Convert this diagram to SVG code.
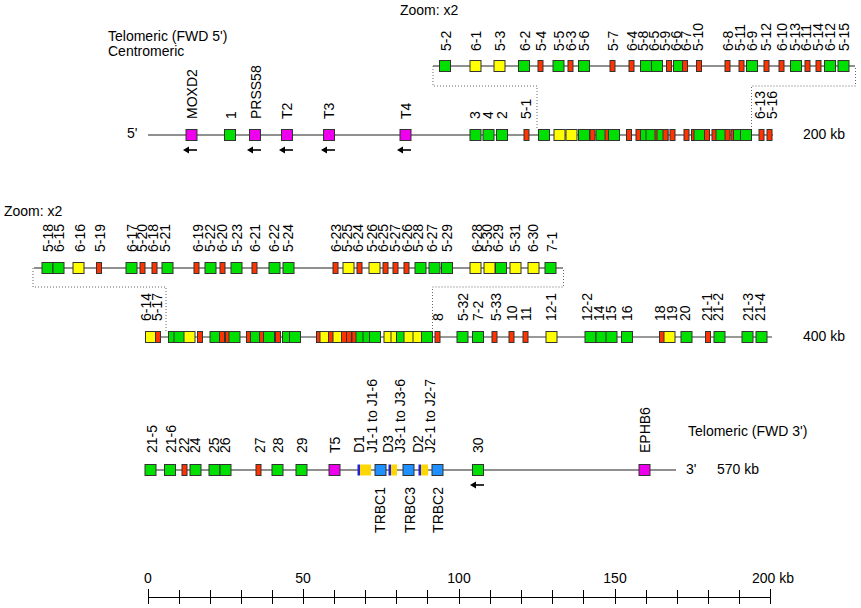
<svg xmlns="http://www.w3.org/2000/svg" width="861" height="608" viewBox="0 0 861 608">
<style>
text{font-family:"Liberation Sans",Arial,sans-serif;font-size:14px;fill:#000}
.ln{stroke:#222;stroke-width:1.2;fill:none}
.ln2{stroke:#777;stroke-width:1.4;fill:none}
.dot{fill:none;stroke:#666;stroke-width:1;stroke-dasharray:1 2}
.G{fill:#00e000;stroke:#333;stroke-width:1}
.Y{fill:#ffff00;stroke:#333;stroke-width:1}
.R{fill:#ff3300;stroke:#333;stroke-width:1}
.M{fill:#ee00ee;stroke:#333;stroke-width:1}
.B{fill:#1e90ff;stroke:#333;stroke-width:1}
.J{fill:#ffd700;stroke:none}
.D{fill:#2222dd;stroke:none}
.e{text-anchor:end}
.m{text-anchor:middle}
.sc{stroke:#000;stroke-width:1;fill:none}
</style>
<defs>
<g id="arr"><path d="M0,0 L6,-3.5 L6,3.5 Z" fill="#000"/><line x1="5" y1="0" x2="14" y2="0" stroke="#000" stroke-width="1.6"/></g>
</defs>

<g id="titles">
<text x="400" y="15">Zoom: x2</text>
<text x="108" y="41">Telomeric (FWD 5')</text>
<text x="108" y="56">Centromeric</text>
<text x="127" y="138">5'</text>
<text x="803" y="139">200 kb</text>
<text x="4" y="216">Zoom: x2</text>
<text x="803" y="341">400 kb</text>
<text x="688" y="436">Telomeric (FWD 3')</text>
<text x="686" y="474">3'</text>
<text x="717" y="474">570 kb</text>
</g>

<g id="connectors">
<line class="ln" x1="433" y1="66" x2="855" y2="66"/>
<line class="ln" x1="148" y1="135" x2="773" y2="135"/>
<line class="ln" x1="34" y1="268" x2="563" y2="268"/>
<line class="ln2" x1="148" y1="337" x2="772" y2="337"/>
<line class="ln" x1="148" y1="470" x2="676" y2="470"/>
<path class="dot" d="M433,66 V86 H537 V130"/>
<path class="dot" d="M751.5,130 V86 H855.5 V66"/>
<path class="dot" d="M33,268 V287 H166 V332"/>
<path class="dot" d="M432.5,332 V287 H563.5 V268"/>
<use href="#arr" x="183" y="150"/>
<use href="#arr" x="247" y="150"/>
<use href="#arr" x="279" y="150"/>
<use href="#arr" x="321" y="150"/>
<use href="#arr" x="397" y="150"/>
<use href="#arr" x="470" y="485"/>
</g>

<!-- Row 1 zoom -->
<g id="z1-5-2"><rect class="G" x="439.5" y="60.5" width="11" height="11"/><text transform="translate(451,51) rotate(-90)">5-2</text></g>
<g id="z1-6-1"><rect class="Y" x="470" y="60.5" width="11" height="11"/><text transform="translate(481,51) rotate(-90)">6-1</text></g>
<g id="z1-5-3"><rect class="Y" x="494" y="60.5" width="11" height="11"/><text transform="translate(505,51) rotate(-90)">5-3</text></g>
<g id="z1-6-2"><rect class="G" x="518.5" y="60.5" width="11" height="11"/><text transform="translate(530,51) rotate(-90)">6-2</text></g>
<g id="z1-5-4"><rect class="R" x="538" y="60.5" width="5" height="11"/><text transform="translate(546,51) rotate(-90)">5-4</text></g>
<g id="z1-5-5"><rect class="G" x="553" y="60.5" width="11" height="11"/><text transform="translate(564,51) rotate(-90)">5-5</text></g>
<g id="z1-6-3"><rect class="R" x="568" y="60.5" width="5" height="11"/><text transform="translate(576,51) rotate(-90)">6-3</text></g>
<g id="z1-5-6"><rect class="G" x="578.5" y="60.5" width="11" height="11"/><text transform="translate(589,51) rotate(-90)">5-6</text></g>
<g id="z1-5-7"><rect class="R" x="610" y="60.5" width="5" height="11"/><text transform="translate(618,51) rotate(-90)">5-7</text></g>
<g id="z1-6-4"><rect class="R" x="629" y="60.5" width="5" height="11"/><text transform="translate(637,51) rotate(-90)">6-4</text></g>
<g id="z1-5-8"><rect class="G" x="640.5" y="60.5" width="11" height="11"/><text transform="translate(648,51) rotate(-90)">5-8</text></g>
<g id="z1-6-5"><rect class="G" x="651.5" y="60.5" width="11" height="11"/><text transform="translate(659,51) rotate(-90)">6-5</text></g>
<g id="z1-5-9"><rect class="R" x="666.5" y="60.5" width="5" height="11"/><text transform="translate(670,51) rotate(-90)">5-9</text></g>
<g id="z1-6-6"><rect class="G" x="673.5" y="60.5" width="11" height="11"/><text transform="translate(681,51) rotate(-90)">6-6</text></g>
<g id="z1-6-7"><rect class="R" x="682.5" y="60.5" width="5" height="11"/><text transform="translate(691,51) rotate(-90)">6-7</text></g>
<g id="z1-5-10"><rect class="R" x="696.5" y="60.5" width="5" height="11"/><text transform="translate(703,51) rotate(-90)">5-10</text></g>
<g id="z1-6-8"><rect class="R" x="725" y="60.5" width="5" height="11"/><text transform="translate(733,51) rotate(-90)">6-8</text></g>
<g id="z1-5-11"><rect class="R" x="739" y="60.5" width="5" height="11"/><text transform="translate(745,51) rotate(-90)">5-11</text></g>
<g id="z1-6-9"><rect class="G" x="746.5" y="60.5" width="11" height="11"/><text transform="translate(757,51) rotate(-90)">6-9</text></g>
<g id="z1-5-12"><rect class="R" x="764" y="60.5" width="5" height="11"/><text transform="translate(771,51) rotate(-90)">5-12</text></g>
<g id="z1-6-10"><rect class="R" x="779" y="60.5" width="5" height="11"/><text transform="translate(787,51) rotate(-90)">6-10</text></g>
<g id="z1-5-13"><rect class="G" x="790.5" y="60.5" width="11" height="11"/><text transform="translate(800,51) rotate(-90)">5-13</text></g>
<g id="z1-6-11"><rect class="R" x="805" y="60.5" width="5" height="11"/><text transform="translate(811,51) rotate(-90)">6-11</text></g>
<g id="z1-5-14"><rect class="R" x="816" y="60.5" width="5" height="11"/><text transform="translate(823,51) rotate(-90)">5-14</text></g>
<g id="z1-6-12"><rect class="G" x="824.5" y="60.5" width="11" height="11"/><text transform="translate(835,51) rotate(-90)">6-12</text></g>
<g id="z1-5-15"><rect class="G" x="838" y="60.5" width="11" height="11"/><text transform="translate(849,51) rotate(-90)">5-15</text></g>

<!-- Row 1 main -->
<g id="MOXD2"><rect class="M" x="186" y="129.5" width="11" height="11"/><text transform="translate(197,119) rotate(-90)">MOXD2</text></g>
<g id="m1-1"><rect class="G" x="224.5" y="129.5" width="11" height="11"/><text transform="translate(236,119) rotate(-90)">1</text></g>
<g id="PRSS58"><rect class="M" x="249.5" y="129.5" width="11" height="11"/><text transform="translate(261,119) rotate(-90)">PRSS58</text></g>
<g id="T2"><rect class="M" x="281.5" y="129.5" width="11" height="11"/><text transform="translate(292,119) rotate(-90)">T2</text></g>
<g id="T3"><rect class="M" x="323.5" y="129.5" width="11" height="11"/><text transform="translate(334,119) rotate(-90)">T3</text></g>
<g id="T4"><rect class="M" x="400" y="129.5" width="11" height="11"/><text transform="translate(411,119) rotate(-90)">T4</text></g>
<g id="m1-3"><rect class="G" x="470" y="129.5" width="11" height="11"/><text transform="translate(480,119) rotate(-90)">3</text></g>
<g id="m1-4"><rect class="G" x="483" y="129.5" width="11" height="11"/><text transform="translate(493,119) rotate(-90)">4</text></g>
<g id="m1-2"><rect class="G" x="496.5" y="129.5" width="11" height="11"/><text transform="translate(507,119) rotate(-90)">2</text></g>
<g id="m1-5-1"><rect class="R" x="524" y="129.5" width="5" height="11"/><text transform="translate(531,119) rotate(-90)">5-1</text></g>
<g id="m1-5-2"><rect class="G" x="538.5" y="129.5" width="11" height="11"/></g>
<g id="m1-6-1"><rect class="Y" x="554" y="129.5" width="11" height="11"/></g>
<g id="m1-5-3"><rect class="Y" x="566" y="129.5" width="11" height="11"/></g>
<g id="m1-6-2"><rect class="G" x="578.5" y="129.5" width="11" height="11"/></g>
<g id="m1-5-4"><rect class="R" x="590" y="129.5" width="5" height="11"/></g>
<g id="m1-5-5"><rect class="G" x="596" y="129.5" width="11" height="11"/></g>
<g id="m1-6-3"><rect class="R" x="605" y="129.5" width="5" height="11"/></g>
<g id="m1-5-6"><rect class="G" x="608.5" y="129.5" width="11" height="11"/></g>
<g id="m1-5-7"><rect class="R" x="626.5" y="129.5" width="5" height="11"/></g>
<g id="m1-6-4"><rect class="R" x="636" y="129.5" width="5" height="11"/></g>
<g id="m1-5-8"><rect class="G" x="640.5" y="129.5" width="11" height="11"/></g>
<g id="m1-6-5"><rect class="G" x="646" y="129.5" width="11" height="11"/></g>
<g id="m1-5-9"><rect class="R" x="655" y="129.5" width="5" height="11"/></g>
<g id="m1-6-6"><rect class="G" x="657" y="129.5" width="11" height="11"/></g>
<g id="m1-6-7"><rect class="R" x="663" y="129.5" width="5" height="11"/></g>
<g id="m1-5-10"><rect class="R" x="670" y="129.5" width="5" height="11"/></g>
<g id="m1-6-8"><rect class="R" x="684" y="129.5" width="5" height="11"/></g>
<g id="m1-5-11"><rect class="R" x="691.5" y="129.5" width="5" height="11"/></g>
<g id="m1-6-9"><rect class="G" x="694" y="129.5" width="11" height="11"/></g>
<g id="m1-5-12"><rect class="R" x="704.5" y="129.5" width="5" height="11"/></g>
<g id="m1-6-10"><rect class="R" x="712" y="129.5" width="5" height="11"/></g>
<g id="m1-5-13"><rect class="G" x="716" y="129.5" width="11" height="11"/></g>
<g id="m1-6-11"><rect class="R" x="725" y="129.5" width="5" height="11"/></g>
<g id="m1-5-14"><rect class="R" x="731" y="129.5" width="5" height="11"/></g>
<g id="m1-6-12"><rect class="G" x="733.5" y="129.5" width="11" height="11"/></g>
<g id="m1-5-15"><rect class="G" x="740.5" y="129.5" width="11" height="11"/></g>
<g id="m1-6-13"><rect class="R" x="759" y="129.5" width="5" height="11"/><text transform="translate(765,119) rotate(-90)">6-13</text></g>
<g id="m1-5-16"><rect class="R" x="767" y="129.5" width="5" height="11"/><text transform="translate(777,119) rotate(-90)">5-16</text></g>

<!-- Row 2 zoom -->
<g id="z2-5-18"><rect class="G" x="42" y="262.5" width="11" height="11"/><text transform="translate(53,252) rotate(-90)">5-18</text></g>
<g id="z2-6-15"><rect class="G" x="53" y="262.5" width="11" height="11"/><text transform="translate(64,252) rotate(-90)">6-15</text></g>
<g id="z2-6-16"><rect class="Y" x="73" y="262.5" width="11" height="11"/><text transform="translate(85,252) rotate(-90)">6-16</text></g>
<g id="z2-5-19"><rect class="R" x="96.5" y="262.5" width="5" height="11"/><text transform="translate(105,252) rotate(-90)">5-19</text></g>
<g id="z2-6-17"><rect class="G" x="126" y="262.5" width="11" height="11"/><text transform="translate(137,252) rotate(-90)">6-17</text></g>
<g id="z2-5-20"><rect class="R" x="140" y="262.5" width="5" height="11"/><text transform="translate(147,252) rotate(-90)">5-20</text></g>
<g id="z2-6-18"><rect class="R" x="152" y="262.5" width="5" height="11"/><text transform="translate(158,252) rotate(-90)">6-18</text></g>
<g id="z2-5-21"><rect class="G" x="162" y="262.5" width="11" height="11"/><text transform="translate(170,252) rotate(-90)">5-21</text></g>
<g id="z2-6-19"><rect class="R" x="194" y="262.5" width="5" height="11"/><text transform="translate(203,252) rotate(-90)">6-19</text></g>
<g id="z2-5-22"><rect class="G" x="205" y="262.5" width="11" height="11"/><text transform="translate(215,252) rotate(-90)">5-22</text></g>
<g id="z2-6-20"><rect class="R" x="220" y="262.5" width="5" height="11"/><text transform="translate(227,252) rotate(-90)">6-20</text></g>
<g id="z2-5-23"><rect class="G" x="231" y="262.5" width="11" height="11"/><text transform="translate(242,252) rotate(-90)">5-23</text></g>
<g id="z2-6-21"><rect class="R" x="252" y="262.5" width="5" height="11"/><text transform="translate(260,252) rotate(-90)">6-21</text></g>
<g id="z2-6-22"><rect class="G" x="269" y="262.5" width="11" height="11"/><text transform="translate(279,252) rotate(-90)">6-22</text></g>
<g id="z2-5-24"><rect class="G" x="283" y="262.5" width="11" height="11"/><text transform="translate(293,252) rotate(-90)">5-24</text></g>
<g id="z2-6-23"><rect class="R" x="333" y="262.5" width="5" height="11"/><text transform="translate(341,252) rotate(-90)">6-23</text></g>
<g id="z2-5-25"><rect class="Y" x="343" y="262.5" width="11" height="11"/><text transform="translate(352,252) rotate(-90)">5-25</text></g>
<g id="z2-6-24"><rect class="R" x="357" y="262.5" width="5" height="11"/><text transform="translate(363,252) rotate(-90)">6-24</text></g>
<g id="z2-5-26"><rect class="Y" x="369" y="262.5" width="11" height="11"/><text transform="translate(377,252) rotate(-90)">5-26</text></g>
<g id="z2-6-25"><rect class="R" x="383" y="262.5" width="5" height="11"/><text transform="translate(388,252) rotate(-90)">6-25</text></g>
<g id="z2-5-27"><rect class="R" x="393" y="262.5" width="5" height="11"/><text transform="translate(400,252) rotate(-90)">5-27</text></g>
<g id="z2-6-26"><rect class="R" x="404" y="262.5" width="5" height="11"/><text transform="translate(412,252) rotate(-90)">6-26</text></g>
<g id="z2-5-28"><rect class="G" x="415" y="262.5" width="11" height="11"/><text transform="translate(423,252) rotate(-90)">5-28</text></g>
<g id="z2-6-27"><rect class="G" x="429" y="262.5" width="11" height="11"/><text transform="translate(437,252) rotate(-90)">6-27</text></g>
<g id="z2-5-29"><rect class="G" x="441.5" y="262.5" width="11" height="11"/><text transform="translate(452,252) rotate(-90)">5-29</text></g>
<g id="z2-6-28"><rect class="Y" x="470" y="262.5" width="11" height="11"/><text transform="translate(482,252) rotate(-90)">6-28</text></g>
<g id="z2-5-30"><rect class="Y" x="484" y="262.5" width="11" height="11"/><text transform="translate(492,252) rotate(-90)">5-30</text></g>
<g id="z2-6-29"><rect class="G" x="495.5" y="262.5" width="11" height="11"/><text transform="translate(503,252) rotate(-90)">6-29</text></g>
<g id="z2-5-31"><rect class="Y" x="510" y="262.5" width="11" height="11"/><text transform="translate(520,252) rotate(-90)">5-31</text></g>
<g id="z2-6-30"><rect class="Y" x="528" y="262.5" width="11" height="11"/><text transform="translate(538,252) rotate(-90)">6-30</text></g>
<g id="z2-7-1"><rect class="G" x="545" y="262.5" width="11" height="11"/><text transform="translate(557,252) rotate(-90)">7-1</text></g>

<!-- Row 2 main -->
<g id="m2-6-14"><rect class="Y" x="145.5" y="331.5" width="11" height="11"/><text transform="translate(151,321) rotate(-90)">6-14</text></g>
<g id="m2-5-17"><rect class="R" x="155.5" y="331.5" width="5" height="11"/><text transform="translate(162,321) rotate(-90)">5-17</text></g>
<g id="m2-5-18"><rect class="G" x="168.5" y="331.5" width="11" height="11"/></g>
<g id="m2-6-15"><rect class="G" x="174" y="331.5" width="11" height="11"/></g>
<g id="m2-6-16"><rect class="Y" x="184" y="331.5" width="11" height="11"/></g>
<g id="m2-5-19"><rect class="R" x="197.5" y="331.5" width="5" height="11"/></g>
<g id="m2-6-17"><rect class="G" x="210" y="331.5" width="11" height="11"/></g>
<g id="m2-5-20"><rect class="R" x="219.5" y="331.5" width="5" height="11"/></g>
<g id="m2-6-18"><rect class="R" x="225.5" y="331.5" width="5" height="11"/></g>
<g id="m2-5-21"><rect class="G" x="229" y="331.5" width="11" height="11"/></g>
<g id="m2-6-19"><rect class="R" x="246.5" y="331.5" width="5" height="11"/></g>
<g id="m2-5-22"><rect class="G" x="250.5" y="331.5" width="11" height="11"/></g>
<g id="m2-6-20"><rect class="R" x="259.5" y="331.5" width="5" height="11"/></g>
<g id="m2-5-23"><rect class="G" x="263.5" y="331.5" width="11" height="11"/></g>
<g id="m2-6-21"><rect class="R" x="275.5" y="331.5" width="5" height="11"/></g>
<g id="m2-6-22"><rect class="G" x="282.5" y="331.5" width="11" height="11"/></g>
<g id="m2-5-24"><rect class="G" x="289.5" y="331.5" width="11" height="11"/></g>
<g id="m2-6-23"><rect class="R" x="316.5" y="331.5" width="5" height="11"/></g>
<g id="m2-5-25"><rect class="Y" x="320" y="331.5" width="11" height="11"/></g>
<g id="m2-6-24"><rect class="R" x="328.5" y="331.5" width="5" height="11"/></g>
<g id="m2-5-26"><rect class="Y" x="333" y="331.5" width="11" height="11"/></g>
<g id="m2-6-25"><rect class="R" x="341.5" y="331.5" width="5" height="11"/></g>
<g id="m2-5-27"><rect class="R" x="346.5" y="331.5" width="5" height="11"/></g>
<g id="m2-6-26"><rect class="R" x="352" y="331.5" width="5" height="11"/></g>
<g id="m2-5-28"><rect class="G" x="356" y="331.5" width="11" height="11"/></g>
<g id="m2-6-27"><rect class="G" x="363" y="331.5" width="11" height="11"/></g>
<g id="m2-5-29"><rect class="G" x="369.5" y="331.5" width="11" height="11"/></g>
<g id="m2-6-28"><rect class="Y" x="384" y="331.5" width="11" height="11"/></g>
<g id="m2-5-30"><rect class="Y" x="391" y="331.5" width="11" height="11"/></g>
<g id="m2-6-29"><rect class="G" x="396.5" y="331.5" width="11" height="11"/></g>
<g id="m2-5-31"><rect class="Y" x="404" y="331.5" width="11" height="11"/></g>
<g id="m2-6-30"><rect class="Y" x="413" y="331.5" width="11" height="11"/></g>
<g id="m2-7-1"><rect class="G" x="421.5" y="331.5" width="11" height="11"/></g>
<g id="m2-8"><rect class="R" x="435" y="331.5" width="5" height="11"/><text transform="translate(443,321) rotate(-90)">8</text></g>
<g id="m2-5-32"><rect class="G" x="457" y="331.5" width="11" height="11"/><text transform="translate(468,321) rotate(-90)">5-32</text></g>
<g id="m2-7-2"><rect class="G" x="472.5" y="331.5" width="11" height="11"/><text transform="translate(483,321) rotate(-90)">7-2</text></g>
<g id="m2-5-33"><rect class="R" x="492" y="331.5" width="5" height="11"/><text transform="translate(501,321) rotate(-90)">5-33</text></g>
<g id="m2-10"><rect class="R" x="509" y="331.5" width="5" height="11"/><text transform="translate(517,321) rotate(-90)">10</text></g>
<g id="m2-11"><rect class="R" x="523" y="331.5" width="5" height="11"/><text transform="translate(531,321) rotate(-90)">11</text></g>
<g id="m2-12-1"><rect class="Y" x="546" y="331.5" width="11" height="11"/><text transform="translate(556,321) rotate(-90)">12-1</text></g>
<g id="m2-12-2"><rect class="G" x="585" y="331.5" width="11" height="11"/><text transform="translate(592,321) rotate(-90)">12-2</text></g>
<g id="m2-14"><rect class="G" x="596" y="331.5" width="11" height="11"/><text transform="translate(604,321) rotate(-90)">14</text></g>
<g id="m2-15"><rect class="G" x="606" y="331.5" width="11" height="11"/><text transform="translate(616,321) rotate(-90)">15</text></g>
<g id="m2-16"><rect class="G" x="621.5" y="331.5" width="11" height="11"/><text transform="translate(632,321) rotate(-90)">16</text></g>
<g id="m2-18"><rect class="R" x="659.5" y="331.5" width="5" height="11"/><text transform="translate(665,321) rotate(-90)">18</text></g>
<g id="m2-19"><rect class="Y" x="664" y="331.5" width="11" height="11"/><text transform="translate(677,321) rotate(-90)">19</text></g>
<g id="m2-20"><rect class="G" x="681" y="331.5" width="11" height="11"/><text transform="translate(690,321) rotate(-90)">20</text></g>
<g id="m2-21-1"><rect class="R" x="705.5" y="331.5" width="5" height="11"/><text transform="translate(712,321) rotate(-90)">21-1</text></g>
<g id="m2-21-2"><rect class="G" x="714" y="331.5" width="11" height="11"/><text transform="translate(723,321) rotate(-90)">21-2</text></g>
<g id="m2-21-3"><rect class="G" x="742" y="331.5" width="11" height="11"/><text transform="translate(753,321) rotate(-90)">21-3</text></g>
<g id="m2-21-4"><rect class="G" x="756" y="331.5" width="11" height="11"/><text transform="translate(765,321) rotate(-90)">21-4</text></g>

<!-- Row 3 -->
<g id="m3-21-5"><rect class="G" x="145" y="464.5" width="11" height="11"/><text transform="translate(157,453) rotate(-90)">21-5</text></g>
<g id="m3-21-6"><rect class="G" x="164.5" y="464.5" width="11" height="11"/><text transform="translate(176,453) rotate(-90)">21-6</text></g>
<g id="m3-22"><rect class="R" x="182" y="464.5" width="5" height="11"/><text transform="translate(189,453) rotate(-90)">22</text></g>
<g id="m3-24"><rect class="G" x="190" y="464.5" width="11" height="11"/><text transform="translate(200,453) rotate(-90)">24</text></g>
<g id="m3-25"><rect class="G" x="209" y="464.5" width="11" height="11"/><text transform="translate(219,453) rotate(-90)">25</text></g>
<g id="m3-26"><rect class="G" x="220" y="464.5" width="11" height="11"/><text transform="translate(230,453) rotate(-90)">26</text></g>
<g id="m3-27"><rect class="R" x="256" y="464.5" width="5" height="11"/><text transform="translate(265,453) rotate(-90)">27</text></g>
<g id="m3-28"><rect class="G" x="272" y="464.5" width="11" height="11"/><text transform="translate(283,453) rotate(-90)">28</text></g>
<g id="m3-29"><rect class="G" x="296" y="464.5" width="11" height="11"/><text transform="translate(307,453) rotate(-90)">29</text></g>
<g id="T5"><rect class="M" x="329" y="464.5" width="11" height="11"/><text transform="translate(340,453) rotate(-90)">T5</text></g>
<g id="D1"><rect class="D" x="357.5" y="464.5" width="2.5" height="11"/><text transform="translate(364,453) rotate(-90)">D1</text></g>
<g id="J1"><rect class="J" x="360" y="464.5" width="11" height="11"/><text transform="translate(377,453) rotate(-90)">J1-1 to J1-6</text></g>
<g id="TRBC1"><rect class="B" x="375" y="464.5" width="11" height="11"/><text class="e" transform="translate(385,487) rotate(-90)">TRBC1</text></g>
<g id="D3"><rect class="D" x="388.5" y="464.5" width="2.5" height="11"/><text transform="translate(393,453) rotate(-90)">D3</text></g>
<g id="J3"><rect class="J" x="391" y="464.5" width="6" height="11"/><text transform="translate(405,453) rotate(-90)">J3-1 to J3-6</text></g>
<g id="TRBC3"><rect class="B" x="403" y="464.5" width="11" height="11"/><text class="e" transform="translate(415,487) rotate(-90)">TRBC3</text></g>
<g id="D2"><rect class="D" x="418.5" y="464.5" width="2.5" height="11"/><text transform="translate(423,453) rotate(-90)">D2</text></g>
<g id="J2"><rect class="J" x="421" y="464.5" width="7" height="11"/><text transform="translate(435,453) rotate(-90)">J2-1 to J2-7</text></g>
<g id="TRBC2"><rect class="B" x="432" y="464.5" width="11" height="11"/><text class="e" transform="translate(443,487) rotate(-90)">TRBC2</text></g>
<g id="m3-30"><rect class="G" x="472.5" y="464.5" width="11" height="11"/><text transform="translate(483,453) rotate(-90)">30</text></g>
<g id="EPHB6"><rect class="M" x="639" y="464.5" width="11" height="11"/><text transform="translate(650,453) rotate(-90)">EPHB6</text></g>

<!-- Scale bar -->
<g id="scale">
<line class="sc" x1="148" y1="597.5" x2="771" y2="597.5"/>
<path class="sc" d="M148.5,589V604 M179.5,590V604 M210.5,590V604 M241.5,590V604 M272.5,590V604 M303.5,589V604 M334.5,590V604 M365.5,590V604 M396.5,590V604 M427.5,590V604 M459.5,589V604 M490.5,590V604 M521.5,590V604 M552.5,590V604 M583.5,590V604 M615.5,589V604 M646.5,590V604 M677.5,590V604 M708.5,590V604 M739.5,590V604 M770.5,589V604"/>
<text class="m" x="148" y="583">0</text>
<text class="m" x="303" y="583">50</text>
<text class="m" x="459" y="583">100</text>
<text class="m" x="615" y="583">150</text>
<text x="752" y="583">200 kb</text>
</g>
</svg>
